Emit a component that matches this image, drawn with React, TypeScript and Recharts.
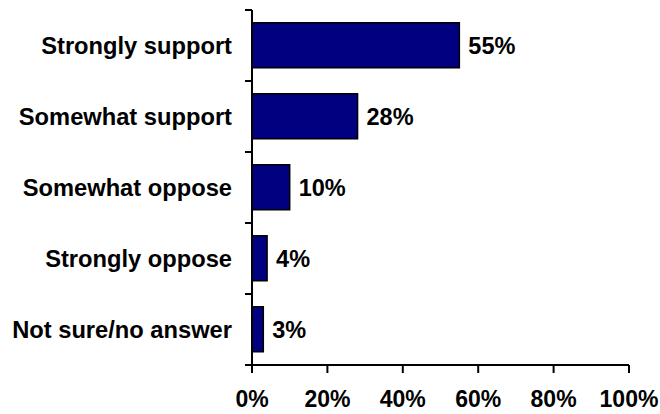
import {Bar, BarChart, LabelList, XAxis, YAxis} from "recharts";

const categories = [
    "Strongly support",
    "Somewhat support",
    "Somewhat oppose",
    "Strongly oppose",
    "Not sure/no answer",
];
const shares = [55, 28, 10, 4, 3];
const xTicks = [0, 20, 40, 60, 80, 100];

const data = categories.map((label, i) => ({label, share: shares[i]}));

const FONT = "'Liberation Sans', Arial, sans-serif";
const TICK_SIZE = 7;
const TICK_MARGIN = 13;

// label at the band centre, plus the short tick marks on the band boundaries
const CategoryTick = (props: any) => {
    const {x, y, payload, index, visibleTicksCount} = props;
    const half = payload.offset ?? 35.5;
    const axisX = x + TICK_SIZE + TICK_MARGIN;
    const last = index === (visibleTicksCount ?? categories.length) - 1;
    return (
        <g>
            <line x1={axisX - TICK_SIZE} x2={axisX} y1={y - half} y2={y - half} stroke="#000" strokeWidth={2}/>
            {last && (
                <line x1={axisX - TICK_SIZE} x2={axisX} y1={y + half} y2={y + half} stroke="#000" strokeWidth={2}/>
            )}
            <text x={x} y={y} dy="0.36em" textAnchor="end" fill="#000"
                  style={{fontFamily: FONT, fontSize: 23.7, fontWeight: 700}}>
                {payload.value}
            </text>
        </g>
    );
};

const App = () => {
    return (
        <div style={{position: "absolute", left: 0, top: 0, background: "#fff"}}>
            <BarChart
                width={660}
                height={414}
                data={data}
                layout="vertical"
                barCategoryGap="18%"
                margin={{top: 10, right: 31, left: 0, bottom: 0}}
            >
                <XAxis
                    type="number"
                    domain={[0, 100]}
                    ticks={xTicks}
                    tickFormatter={(v: number) => `${v}%`}
                    height={49}
                    axisLine={{stroke: "#000", strokeWidth: 2}}
                    tickLine={{stroke: "#000", strokeWidth: 2}}
                    tickSize={8}
                    tickMargin={18}
                    tick={{fill: "#000", fontFamily: FONT, fontSize: 23, fontWeight: 700}}
                    interval={0}
                />
                <YAxis
                    type="category"
                    dataKey="label"
                    width={252}
                    axisLine={{stroke: "#000", strokeWidth: 2}}
                    tickLine={false}
                    tickSize={TICK_SIZE}
                    tickMargin={TICK_MARGIN}
                    tick={<CategoryTick/>}
                    interval={0}
                />
                <Bar dataKey="share" fill="#000080" stroke="#000" strokeWidth={1.5} isAnimationActive={false}>
                    <LabelList
                        dataKey="share"
                        position="right"
                        offset={9}
                        formatter={(v: number) => `${v}%`}
                        style={{fill: "#000", fontFamily: FONT, fontSize: 23.5, fontWeight: 700}}
                    />
                </Bar>
            </BarChart>
        </div>
    );
};

export default App;
